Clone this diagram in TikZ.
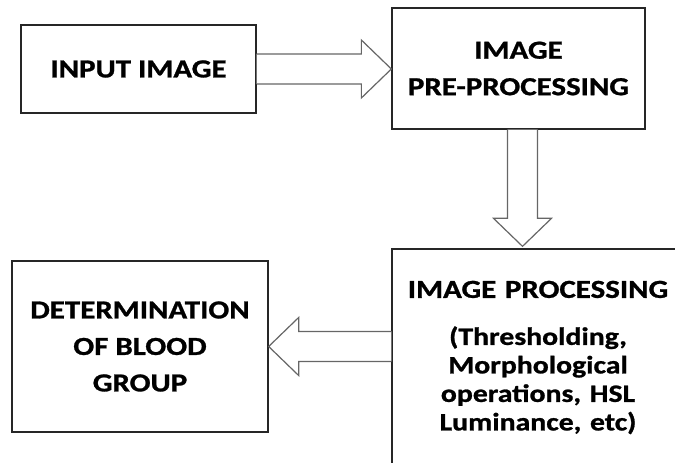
\documentclass[tikz,border=0pt]{standalone}
\usepackage{fontspec}
\setmainfont{Carlito}[FakeStretch=1.19,BoldFeatures={FakeBold=1}]
\usetikzlibrary{calc}
\tikzset{
    % Colors
    box color/.style={black!85},
    arrow color/.style={black!60},
    %
    % Boxes
    stage/.style={draw,box color,line width=1.3pt,text=black,align=center,font=\stagefont,inner sep=0pt},
    %
    % Arrows
    block arrow/.style={draw=black!60,fill=white,line width=1.2pt,line join=miter}
}
\newcommand{\stagefont}{\bfseries\fontsize{26}{36.5}\selectfont}
\newcommand{\detailfont}{\bfseries\fontsize{25}{28.5}\selectfont}

\begin{document}
\begin{tikzpicture}[x=1pt,y=1pt]
    \useasboundingbox (0,0) rectangle (675,463);
    \clip (0,0) rectangle (675,463);
    % stages
    \node[stage,minimum width=235pt,minimum height=88pt] (inp) at (138.5,394) {INPUT IMAGE};
    \node[stage,minimum width=253pt,minimum height=121pt] (pre) at (518.5,394.5) {IMAGE\\PRE-PROCESSING};
    \node[stage,minimum width=292pt,minimum height=217pt,text width=290pt] (proc) at (538,105.5)
        {IMAGE PROCESSING\par\vspace{18.5pt}{\detailfont (Thresholding,\\ Morphological\\ operations, HSL\\ Luminance, etc)\par}};
    \node[stage,minimum width=256pt,minimum height=171pt] (det) at (140,116.5) {DETERMINATION\\OF BLOOD\\GROUP};
    % input -> pre-processing
    \filldraw[block arrow] ($(inp.east)+(0,15)$) -- ($(inp.east -| pre.west)+(-30,15)$) -- ++(0,14)
        -- (inp.east -| pre.west) -- ++(-30,-29) -- ++(0,14) -- ($(inp.east)+(0,-15)$);
    % pre-processing -> processing
    \coordinate (down) at ($(pre.south)+(4,0)$);
    \filldraw[block arrow] ($(down)+(-15,0)$) -- ($(down |- proc.north)+(-15,30)$) -- ++(-14,0)
        -- ($(down |- proc.north)+(0,2)$) -- ++(29,28) -- ++(-14,0) -- ($(down)+(15,0)$);
    % processing -> blood group
    \coordinate (left) at (proc.west |- det.east);
    \filldraw[block arrow] ($(left)+(0,15)$) -- ($(det.east)+(30,15)$) -- ++(0,14)
        -- (det.east) -- ++(30,-29) -- ++(0,14) -- ($(left)+(0,-15)$);
\end{tikzpicture}
\end{document}
